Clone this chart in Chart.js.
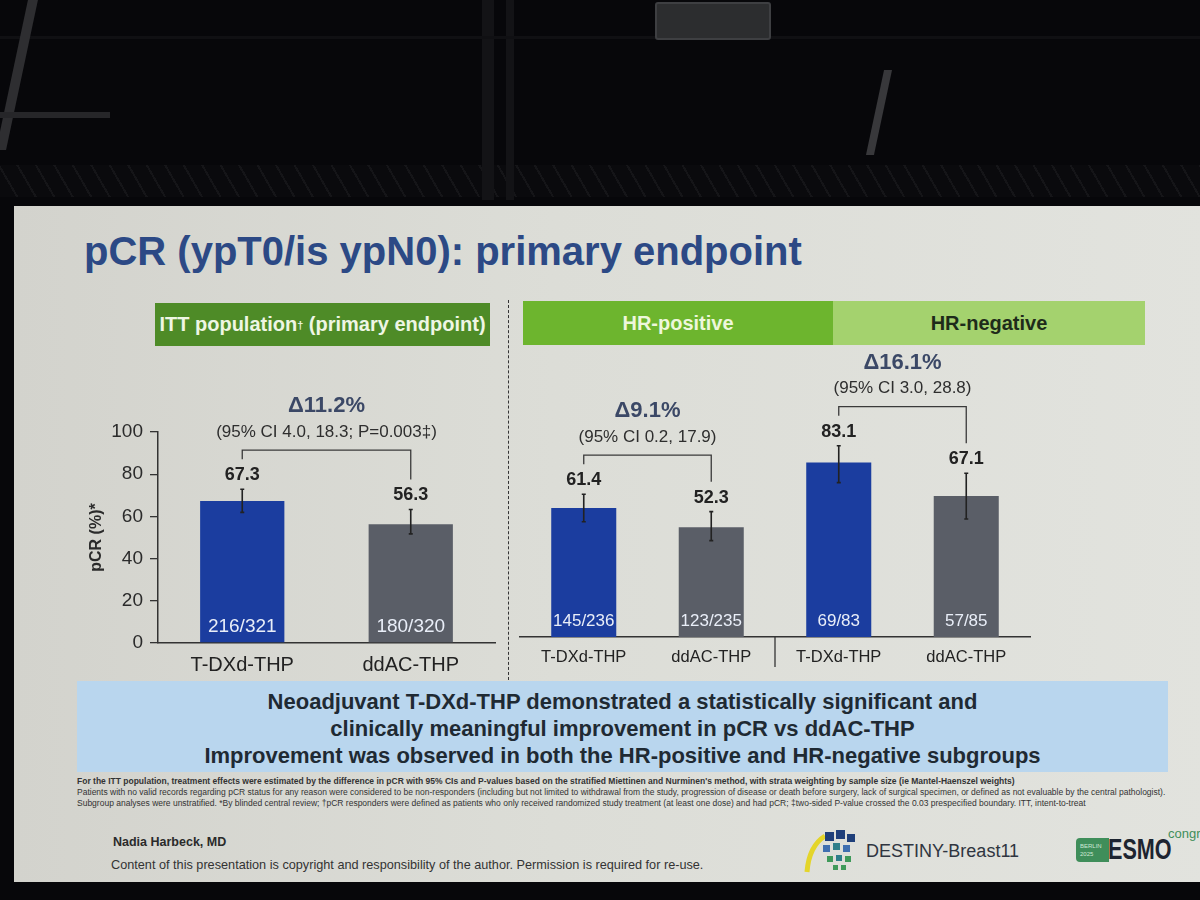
<!DOCTYPE html>
<html>
<head>
<meta charset="utf-8">
<script src="https://cdn.jsdelivr.net/npm/chart.js@4.4.1/dist/chart.umd.min.js"></script>
<style>
  html, body { margin: 0; padding: 0; }
  body { width: 1200px; height: 900px; position: relative; overflow: hidden; background: #07070a; font-family: "Liberation Sans", Arial, sans-serif; }
  .truss { position: absolute; left: 0; top: 165px; width: 1200px; height: 32px; background: repeating-linear-gradient(60deg, #0a0a0d 0 14px, #151518 14px 16px), #0a0a0d; }
  .beam { position: absolute; background: #131316; }
  .fixture { position: absolute; left: 655px; top: 2px; width: 112px; height: 34px; background: #2c2d2f; border: 2px solid #3e3f42; border-radius: 3px; }
  .slide { position: absolute; left: 14px; top: 206px; width: 1200px; height: 676px; background: linear-gradient(90deg, #d3d3cd 0%, #dcddd7 45%, #e2e3de 100%); }
  .title { position: absolute; left: 84px; top: 231px; font-size: 40px; line-height: 40px; font-weight: bold; color: #2c4985; white-space: nowrap; }
  .hdr { position: absolute; display: flex; align-items: center; justify-content: center; font-weight: bold; font-size: 20px; }
  .divider { position: absolute; left: 508px; top: 300px; height: 380px; border-left: 1.5px dashed #333; }
  .chartbox { position: absolute; }
  .callout { position: absolute; left: 77px; top: 681px; width: 1091px; height: 91px; background: #b9d6ee; color: #1f2a33; font-weight: bold; font-size: 22px; line-height: 27px; text-align: center; padding: 7px 0 0 0; box-sizing: border-box; }
  .notes { position: absolute; left: 77px; top: 776px; font-size: 8.5px; line-height: 11px; color: #333; white-space: nowrap; }
  .author { position: absolute; left: 113px; top: 835px; font-weight: bold; font-size: 12.5px; color: #2a2a2a; }
  .copy { position: absolute; left: 111px; top: 858px; font-size: 12.7px; color: #333; white-space: nowrap; }
  .destiny { position: absolute; left: 866px; top: 841px; font-size: 18px; color: #2f3540; }
  .esmo-box { position: absolute; left: 1076px; top: 838px; width: 33px; height: 24px; background: #3f8e5a; color: #cfe8d6; font-size: 6px; line-height: 8px; padding: 4px 0 0 4px; box-sizing: border-box; border-radius: 4px 0 0 4px; }
  .esmo { position: absolute; left: 1108px; top: 834px; font-size: 30px; line-height: 30px; font-weight: bold; color: #1d2430; transform: scaleX(0.72); transform-origin: left top; }
  .congress { position: absolute; left: 1168px; top: 826px; font-size: 13px; color: #3f8e5a; }
</style>
</head>
<body>
<div class="truss"></div>
<div class="beam" style="left:482px;top:0;width:12px;height:200px;"></div>
<div class="beam" style="left:506px;top:0;width:8px;height:200px;"></div>
<div class="beam" style="left:0;top:36px;width:1200px;height:3px;background:#101013"></div>
<div class="beam" style="left:12px;top:0;width:10px;height:150px;transform:skewX(-12deg);background:#2e2e31"></div>
<div class="beam" style="left:0;top:112px;width:110px;height:6px;background:#262629"></div>
<div class="beam" style="left:875px;top:70px;width:8px;height:85px;transform:skewX(-12deg);background:#38383b"></div>
<div class="fixture"></div>
<div class="slide"></div>
<div class="title">pCR (ypT0/is ypN0): primary endpoint</div>

<div class="hdr" style="left:155px;top:303px;width:335px;height:43px;background:#4e8b27;color:#eef6e4;">ITT population<sup style="font-size:11px">†</sup>&nbsp;(primary endpoint)</div>
<div class="hdr" style="left:523px;top:301px;width:310px;height:44px;background:#6db52e;color:#eef7dc;">HR-positive</div>
<div class="hdr" style="left:833px;top:301px;width:312px;height:44px;background:#a4d26e;color:#1e2b1a;">HR-negative</div>
<div class="divider"></div>

<div class="chartbox" style="left:40px;top:360px;width:470px;height:330px;"><canvas id="itt-chart"></canvas></div>
<div class="chartbox" style="left:505px;top:340px;width:540px;height:345px;"><canvas id="hr-chart"></canvas></div>

<div class="callout">Neoadjuvant T-DXd-THP demonstrated a statistically significant and<br>clinically meaningful improvement in pCR vs ddAC-THP<br>Improvement was observed in both the HR-positive and HR-negative subgroups</div>

<div class="notes">
  <b>For the ITT population, treatment effects were estimated by the difference in pCR with 95% CIs and P-values based on the stratified Miettinen and Nurminen's method, with strata weighting by sample size (ie Mantel-Haenszel weights)</b><br>
  Patients with no valid records regarding pCR status for any reason were considered to be non-responders (including but not limited to withdrawal from the study, progression of disease or death before surgery, lack of surgical specimen, or defined as not evaluable by the central pathologist).<br>
  Subgroup analyses were unstratified. *By blinded central review; †pCR responders were defined as patients who only received randomized study treatment (at least one dose) and had pCR; ‡two-sided P-value crossed the 0.03 prespecified boundary. ITT, intent-to-treat
</div>

<div class="author">Nadia Harbeck, MD</div>
<div class="copy">Content of this presentation is copyright and responsibility of the author. Permission is required for re-use.</div>
<svg style="position:absolute;left:803px;top:828px" width="60" height="46">
  <path d="M4 44 Q6 18 22 8" stroke="#e4d52a" stroke-width="5" fill="none"/>
  <rect x="22" y="4" width="9" height="9" fill="#1f3f7a"/><rect x="33" y="2" width="9" height="9" fill="#1f3f7a"/><rect x="44" y="6" width="8" height="8" fill="#1f3f7a"/>
  <rect x="20" y="17" width="7" height="7" fill="#3f6fb0"/><rect x="30" y="15" width="7" height="7" fill="#2f7f8a"/><rect x="40" y="17" width="7" height="7" fill="#3f6fb0"/>
  <rect x="24" y="28" width="6" height="6" fill="#3f9a5a"/><rect x="33" y="27" width="6" height="6" fill="#2f7f8a"/><rect x="42" y="28" width="6" height="6" fill="#3f9a5a"/>
  <rect x="30" y="37" width="5" height="5" fill="#3f9a5a"/><rect x="38" y="37" width="5" height="5" fill="#3f9a5a"/>
</svg>
<div class="destiny">DESTINY-Breast11</div>
<div class="esmo-box">BERLIN<br>2025</div>
<div class="esmo">ESMO</div>
<div class="congress">congress</div>

<script>
// arms and values
const armLabels = ["T-DXd-THP", "ddAC-THP"]
const hrLabels = ["T-DXd-THP", "ddAC-THP", "T-DXd-THP", "ddAC-THP"]

const ittRates = [67.3, 56.3]
const ittLow = [61.9, 51.7]
const ittHigh = [72.9, 63.3]
const ittCounts = ["216/321", "180/320"]
const ittDelta = "Δ11.2%"
const ittCI = "(95% CI 4.0, 18.3; P=0.003‡)"

const hrRates = [61.4, 52.3, 83.1, 67.1]
const hrLow = [54.9, 45.9, 73.5, 56.2]
const hrHigh = [68.0, 59.7, 91.1, 78.0]
const hrCounts = ["145/236", "123/235", "69/83", "57/85"]
const hrDeltas = ["Δ9.1%", "Δ16.1%"]
const hrCIs = ["(95% CI 0.2, 17.9)", "(95% CI 3.0, 28.8)"]

const yTicks = [0, 20, 40, 60, 80, 100]

const blue = "#1b3d9f"
const gray = "#5a5e67"
const ink = "#222"
const font = "'Liberation Sans', Arial, sans-serif"

Chart.defaults.font.family = font

// error bars, value labels, n labels, brackets with deltas
const annotate = {
  id: "annotate",
  afterDatasetsDraw(chart, args, opts) {
    const ctx = chart.ctx
    const y = chart.scales.y
    const meta = chart.getDatasetMeta(0)
    const values = chart.data.datasets[0].data
    const tops = []
    ctx.save()
    ctx.textAlign = "center"
    ctx.textBaseline = "middle"
    meta.data.forEach((bar, i) => {
      const top = y.getPixelForValue(opts.high[i])
      const bot = y.getPixelForValue(opts.low[i])
      tops.push(top)
      ctx.strokeStyle = ink
      ctx.lineWidth = 1.6
      ctx.beginPath()
      ctx.moveTo(bar.x, top); ctx.lineTo(bar.x, bot)
      ctx.moveTo(bar.x - 2, top); ctx.lineTo(bar.x + 2, top)
      ctx.moveTo(bar.x - 2, bot); ctx.lineTo(bar.x + 2, bot)
      ctx.stroke()
      ctx.fillStyle = ink
      ctx.font = "bold 18px " + font
      ctx.fillText(values[i].toFixed(1), bar.x, top - 14)
      ctx.fillStyle = "#e9eef8"
      ctx.font = opts.countSize + "px " + font
      ctx.fillText(opts.counts[i], bar.x, bar.base - 16)
    })
    opts.pairs.forEach((p) => {
      const a = meta.data[p.from], b = meta.data[p.to]
      const barY = Math.min(tops[p.from], tops[p.to]) - 39
      ctx.strokeStyle = "#3a3a3a"
      ctx.lineWidth = 1.3
      ctx.beginPath()
      ctx.moveTo(a.x, tops[p.from] - 30)
      ctx.lineTo(a.x, barY)
      ctx.lineTo(b.x, barY)
      ctx.lineTo(b.x, tops[p.to] - 30)
      ctx.stroke()
      const cx = (a.x + b.x) / 2
      ctx.fillStyle = "#3b4866"
      ctx.font = "bold 22px " + font
      ctx.fillText(p.delta, cx, barY - 44)
      ctx.fillStyle = "#2e2e2e"
      ctx.font = "17px " + font
      ctx.fillText(p.ci, cx, barY - 18)
    })
    if (opts.divider) {
      const xs = chart.scales.x
      const dx = (xs.getPixelForTick(1) + xs.getPixelForTick(2)) / 2
      ctx.strokeStyle = "#333"
      ctx.lineWidth = 1.3
      ctx.beginPath()
      ctx.moveTo(dx, chart.chartArea.bottom)
      ctx.lineTo(dx, chart.chartArea.bottom + 30)
      ctx.stroke()
    }
    ctx.restore()
  }
}

const xAxis = (size, pad) => ({
  grid: { display: false },
  border: { display: true, color: "#333", width: 1.5 },
  ticks: { color: ink, font: { size: size }, padding: pad },
  afterFit: (s) => { s.height = 40 }
})

new Chart(document.getElementById("itt-chart"), {
  type: "bar",
  data: {
    labels: armLabels,
    datasets: [{ data: ittRates, backgroundColor: [blue, gray], barPercentage: 0.5, categoryPercentage: 1 }]
  },
  options: {
    responsive: true,
    maintainAspectRatio: false,
    animation: false,
    layout: { padding: { top: 72, right: 15, bottom: 7, left: 0 } },
    plugins: {
      legend: { display: false },
      tooltip: { enabled: false },
      annotate: { low: ittLow, high: ittHigh, counts: ittCounts, countSize: 19, pairs: [{ from: 0, to: 1, delta: ittDelta, ci: ittCI }] }
    },
    scales: {
      x: xAxis(20, 2),
      y: {
        min: 0,
        max: 100,
        afterBuildTicks: (s) => { s.ticks = yTicks.map((v) => ({ value: v })) },
        ticks: { color: "#2b2b2b", font: { size: 19 }, padding: 7 },
        grid: { drawOnChartArea: false, tickLength: 8, color: "#333", lineWidth: 1.3 },
        border: { color: "#333", width: 1.5 },
        title: { display: true, text: "pCR (%)*", color: "#2b2b2b", font: { size: 16, weight: "bold" }, padding: { top: 47 } },
        afterFit: (s) => { s.width = 118 }
      }
    }
  },
  plugins: [annotate]
})

new Chart(document.getElementById("hr-chart"), {
  type: "bar",
  data: {
    labels: hrLabels,
    datasets: [{ data: hrRates, backgroundColor: [blue, gray, blue, gray], barPercentage: 0.51, categoryPercentage: 1 }]
  },
  options: {
    responsive: true,
    maintainAspectRatio: false,
    animation: false,
    layout: { padding: { top: 87, right: 15, bottom: 8, left: 15 } },
    plugins: {
      legend: { display: false },
      tooltip: { enabled: false },
      annotate: {
        low: hrLow, high: hrHigh, counts: hrCounts, countSize: 17, divider: true,
        pairs: [
          { from: 0, to: 1, delta: hrDeltas[0], ci: hrCIs[0] },
          { from: 2, to: 3, delta: hrDeltas[1], ci: hrCIs[1] }
        ]
      }
    },
    scales: {
      x: xAxis(16.5, 3),
      y: { display: false, min: 0, max: 100 }
    }
  },
  plugins: [annotate]
})
</script>
</body>
</html>
